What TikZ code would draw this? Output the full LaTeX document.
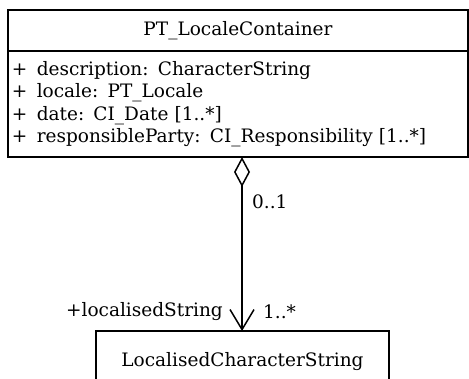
\documentclass[tikz,border=0pt]{standalone}
\usepackage{fontspec}
\setmainfont{DejaVu Serif}
\usetikzlibrary{arrows.meta,positioning}

\begin{document}
\begin{tikzpicture}[x=1pt,y=1pt]
    \tikzstyle{umltext}=[font=\fontsize{18.5}{22.5}\selectfont]
    \tikzstyle{classname}=[
      umltext,
      draw=black,
      line width=1.5pt,
      rectangle,
      minimum width=460pt,
      minimum height=41pt,
      inner sep=0pt,
      outer sep=0pt,
    ]
    \tikzstyle{attrs}=[
      classname,
      minimum height=106pt,
      text width=452pt,
      align=left,
    ]
    \tikzstyle{role}=[umltext, inner sep=0pt]
    \tikzstyle{aggr}=[
      line width=1.5pt,
      {Diamond[open,length=30pt,width=16pt]}-{Straight Barb[length=20pt,width=24pt]},
    ]

    \useasboundingbox (0,0) rectangle (469,-379);

    % container class
    \node[classname] (containerName) at (238,-30.5) {PT\_LocaleContainer};
    \node[attrs, below=0pt of containerName] (containerAttrs) {%
      +\enspace description: CharacterString\\
      +\enspace locale: PT\_Locale\\
      +\enspace date: CI\_Date [1..*]\\
      +\enspace responsibleParty: CI\_Responsibility [1..*]};

    % target class
    \node[classname, minimum width=293pt, minimum height=62pt] (localisedString) at (242.5,-362) {LocalisedCharacterString};

    % association
    \coordinate (aggStart) at ([xshift=4pt]containerAttrs.south);
    \draw[aggr] (aggStart) -- (aggStart |- localisedString.north);

    \node[role, anchor=west] (srcMult) at ([xshift=10pt, yshift=-45pt] aggStart) {0..1};
    \node[role, anchor=west] (dstMult) at ([xshift=21pt, yshift=19pt] aggStart |- localisedString.north) {1..*};
    \node[role, anchor=east] (dstRole) at ([xshift=-19pt, yshift=19pt] aggStart |- localisedString.north) {+localisedString};
\end{tikzpicture}
\end{document}
